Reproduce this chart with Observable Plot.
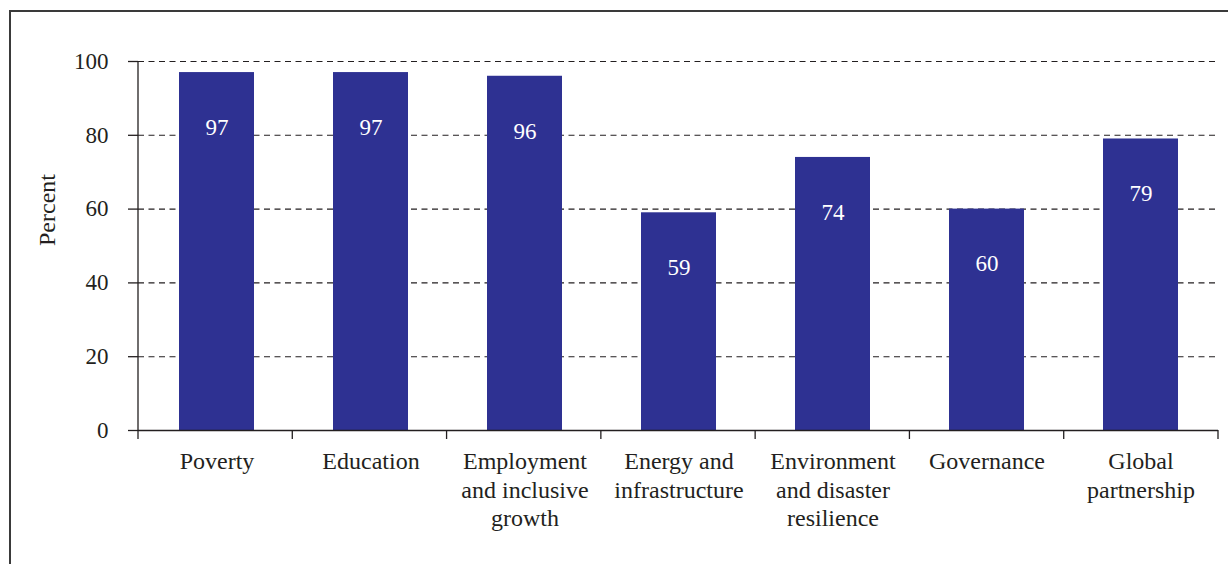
<!DOCTYPE html>
<html>
<head>
<meta charset="utf-8">
<script src="https://cdn.jsdelivr.net/npm/d3@7"></script>
<script src="https://cdn.jsdelivr.net/npm/@observablehq/plot@0.6"></script>
<style>
  html, body { margin: 0; padding: 0; background: #fff; overflow: hidden; }
  #wrap { position: relative; width: 1228px; height: 564px; }
  #frame { position: absolute; left: 9px; top: 10px; width: 1300px; height: 700px;
           border-left: 2px solid #3a3a3a; border-top: 2px solid #3a3a3a; box-sizing: border-box; }
  #chart { position: absolute; left: 0; top: 0; }
  #chart svg text { font-family: 'Liberation Serif', 'DejaVu Serif', serif !important; font-variant: normal !important; }
</style>
</head>
<body>
<div id="wrap"><div id="frame"></div><div id="chart"></div></div>
<script>
const categories = ["Poverty", "Education", "Employment and inclusive growth", "Energy and infrastructure",
  "Environment and disaster resilience", "Governance", "Global partnership"];
const tickLabels = ["Poverty", "Education", "Employment\nand inclusive\ngrowth", "Energy and\ninfrastructure",
  "Environment\nand disaster\nresilience", "Governance", "Global\npartnership"];
const values = [97, 97, 96, 59, 74, 60, 79];
const yTicks = [0, 20, 40, 60, 80, 100];
const gridTicks = [20, 40, 60, 80, 100];
const yLabel = "Percent";

const data = categories.map((c, i) => ({category: c, value: values[i]}));
const labelOf = new Map(categories.map((c, i) => [c, tickLabels[i]]));

const ink = "#231f20";
const barColor = "#2e3192";
const font = "'Liberation Serif', 'DejaVu Serif', serif";

// axis lines and band-edge ticks
function edgeMarks(index, scales, values, dims) {
  const g = d3.create("svg:g").attr("stroke", ink).attr("stroke-width", 1.3);
  const x0 = dims.marginLeft, x1 = dims.width - dims.marginRight;
  const y0 = scales.y(0), yTop = scales.y(100);
  g.append("line").attr("x1", x0).attr("x2", x0).attr("y1", yTop).attr("y2", y0 + 9);
  const step = (x1 - x0) / categories.length;
  for (let i = 1; i <= categories.length; i++) {
    const x = x0 + i * step;
    g.append("line").attr("x1", x).attr("x2", x).attr("y1", y0).attr("y2", y0 + 9);
  }
  return g.node();
}

const plot = Plot.plot({
  width: 1228,
  height: 564,
  marginLeft: 138,
  marginRight: 10,
  marginTop: 61,
  marginBottom: 134,
  style: {fontFamily: font, fontSize: "23px", color: ink, background: "transparent"},
  x: {domain: categories, paddingInner: 0.514, paddingOuter: 0.257, label: null},
  y: {domain: [0, 100], label: null},
  marks: [
    Plot.gridY(gridTicks, {stroke: ink, strokeOpacity: 1, strokeDasharray: "6,4.5", strokeWidth: 1.1}),
    Plot.barY(data, {x: "category", y: "value", fill: barColor}),
    Plot.text(data, {x: "category", y: "value", text: d => String(d.value), dy: 55, fill: "white",
      fontSize: 23, lineAnchor: "middle", fontFamily: font}),
    Plot.axisY(yTicks, {tickSize: 10, tickPadding: 20, fontSize: 23, label: null, strokeWidth: 1.3, fontFamily: font}),
    Plot.axisX({tickSize: 0, tickPadding: 19, fontSize: 24, lineHeight: 1.17, label: null, fontFamily: font,
      tickFormat: d => labelOf.get(d)}),
    Plot.ruleY([0], {stroke: ink, strokeWidth: 1.5}),
    Plot.text([yLabel], {frameAnchor: "left", rotate: -90, dx: -91, fontSize: 24, fill: ink, fontFamily: font}),
    edgeMarks
  ]
});
document.getElementById("chart").appendChild(plot);
</script>
</body>
</html>
